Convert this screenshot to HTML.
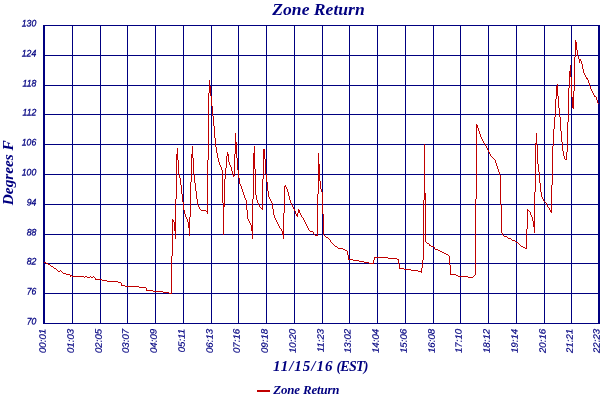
<!DOCTYPE html>
<html><head><meta charset="utf-8"><title>Zone Return</title>
<style>
html,body{margin:0;padding:0;background:#fff;}
body{width:600px;height:400px;overflow:hidden;font-family:"Liberation Sans",sans-serif;}
svg{display:block;will-change:transform;}
.yl{font-family:"Liberation Sans",sans-serif;font-style:italic;font-size:10px;fill:#000080;stroke:#000080;stroke-width:0.3px;text-anchor:end;}
.xl{font-family:"Liberation Sans",sans-serif;font-style:italic;font-size:9.7px;fill:#000080;stroke:#000080;stroke-width:0.2px;text-anchor:end;}
.t{font-family:"Liberation Serif",serif;font-style:italic;font-weight:bold;fill:#000080;text-anchor:middle;}
</style></head>
<body>
<svg width="600" height="400" viewBox="0 0 600 400">
<rect width="600" height="400" fill="#ffffff"/>
<g shape-rendering="crispEdges" fill="#000080">
<rect x="72" y="25" width="1" height="299"/>
<rect x="100" y="25" width="1" height="299"/>
<rect x="127" y="25" width="1" height="299"/>
<rect x="155" y="25" width="1" height="299"/>
<rect x="183" y="25" width="1" height="299"/>
<rect x="211" y="25" width="1" height="299"/>
<rect x="238" y="25" width="1" height="299"/>
<rect x="266" y="25" width="1" height="299"/>
<rect x="294" y="25" width="1" height="299"/>
<rect x="322" y="25" width="1" height="299"/>
<rect x="349" y="25" width="1" height="299"/>
<rect x="377" y="25" width="1" height="299"/>
<rect x="405" y="25" width="1" height="299"/>
<rect x="433" y="25" width="1" height="299"/>
<rect x="460" y="25" width="1" height="299"/>
<rect x="488" y="25" width="1" height="299"/>
<rect x="516" y="25" width="1" height="299"/>
<rect x="544" y="25" width="1" height="299"/>
<rect x="571" y="25" width="1" height="299"/>
<rect x="43" y="25" width="557" height="1"/>
<rect x="43" y="55" width="557" height="1"/>
<rect x="43" y="85" width="557" height="1"/>
<rect x="43" y="114" width="557" height="1"/>
<rect x="43" y="144" width="557" height="1"/>
<rect x="43" y="174" width="557" height="1"/>
<rect x="43" y="204" width="557" height="1"/>
<rect x="43" y="234" width="557" height="1"/>
<rect x="43" y="263" width="557" height="1"/>
<rect x="43" y="293" width="557" height="1"/>
<rect x="43" y="323" width="557" height="1"/>
<rect x="43" y="25" width="2" height="299"/>
<rect x="598" y="25" width="2" height="299"/>
</g>
<path shape-rendering="crispEdges" fill="#c00000" d="M44 262h1v1h-1zM45 262h1v1h-1zM46 263h1v1h-1zM47 263h1v1h-1zM48 264h1v1h-1zM49 264h1v1h-1zM50 265h1v1h-1zM51 266h1v1h-1zM52 266h1v1h-1zM53 267h1v1h-1zM54 268h1v1h-1zM55 268h1v1h-1zM56 269h1v1h-1zM57 270h1v1h-1zM58 271h1v1h-1zM59 271h1v1h-1zM60 270h1v1h-1zM61 271h1v1h-1zM62 272h1v1h-1zM63 273h1v1h-1zM64 273h1v1h-1zM65 273h1v1h-1zM66 274h1v1h-1zM67 274h1v1h-1zM68 274h1v1h-1zM69 274h1v1h-1zM70 275h1v2h-1zM71 275h1v1h-1zM72 276h1v1h-1zM73 276h1v1h-1zM74 276h1v1h-1zM75 276h1v1h-1zM76 276h1v1h-1zM77 276h1v1h-1zM78 276h1v1h-1zM79 276h1v1h-1zM80 276h1v1h-1zM81 276h1v1h-1zM82 276h1v1h-1zM83 276h1v1h-1zM84 277h1v1h-1zM85 276h1v1h-1zM86 276h1v1h-1zM87 277h1v1h-1zM88 277h1v1h-1zM89 277h1v1h-1zM90 276h1v1h-1zM91 277h1v1h-1zM92 277h1v1h-1zM93 276h1v1h-1zM94 277h1v1h-1zM95 278h1v2h-1zM96 279h1v1h-1zM97 279h1v1h-1zM98 279h1v1h-1zM99 279h1v1h-1zM100 279h1v1h-1zM101 279h1v1h-1zM102 280h1v1h-1zM103 280h1v1h-1zM104 280h1v1h-1zM105 280h1v1h-1zM106 280h1v1h-1zM107 281h1v1h-1zM108 281h1v1h-1zM109 281h1v1h-1zM110 281h1v1h-1zM111 281h1v1h-1zM112 281h1v1h-1zM113 281h1v1h-1zM114 281h1v1h-1zM115 281h1v1h-1zM116 281h1v1h-1zM117 281h1v1h-1zM118 282h1v1h-1zM119 282h1v1h-1zM120 282h1v1h-1zM121 283h1v3h-1zM122 285h1v1h-1zM123 285h1v1h-1zM124 285h1v1h-1zM125 286h1v1h-1zM126 286h1v1h-1zM127 286h1v1h-1zM128 286h1v1h-1zM129 286h1v1h-1zM130 286h1v1h-1zM131 286h1v1h-1zM132 286h1v1h-1zM133 286h1v1h-1zM134 286h1v1h-1zM135 286h1v1h-1zM136 286h1v1h-1zM137 286h1v1h-1zM138 286h1v1h-1zM139 287h1v1h-1zM140 287h1v1h-1zM141 287h1v1h-1zM142 287h1v1h-1zM143 287h1v1h-1zM144 287h1v1h-1zM145 287h1v1h-1zM146 288h1v3h-1zM147 290h1v1h-1zM148 290h1v1h-1zM149 290h1v1h-1zM150 290h1v1h-1zM151 290h1v1h-1zM152 290h1v1h-1zM153 291h1v1h-1zM154 291h1v1h-1zM155 291h1v1h-1zM156 291h1v1h-1zM157 291h1v1h-1zM158 291h1v1h-1zM159 291h1v1h-1zM160 291h1v1h-1zM161 291h1v1h-1zM162 291h1v1h-1zM163 292h1v1h-1zM164 292h1v1h-1zM165 292h1v1h-1zM166 292h1v1h-1zM167 292h1v1h-1zM168 292h1v1h-1zM169 293h1v1h-1zM170 293h1v1h-1zM171 256h1v38h-1zM172 219h1v37h-1zM173 220h1v2h-1zM174 222h1v9h-1zM175 199h1v40h-1zM176 154h1v45h-1zM177 148h1v12h-1zM178 160h1v14h-1zM179 174h1v4h-1zM180 178h1v7h-1zM181 185h1v9h-1zM182 194h1v8h-1zM183 202h1v8h-1zM184 210h1v4h-1zM185 214h1v3h-1zM186 217h1v2h-1zM187 219h1v3h-1zM188 222h1v6h-1zM189 217h1v19h-1zM190 182h1v35h-1zM191 154h1v28h-1zM192 146h1v12h-1zM193 158h1v16h-1zM194 174h1v9h-1zM195 183h1v8h-1zM196 191h1v8h-1zM197 199h1v6h-1zM198 205h1v2h-1zM199 207h1v2h-1zM200 209h1v1h-1zM201 210h1v1h-1zM202 210h1v1h-1zM203 210h1v1h-1zM204 210h1v1h-1zM205 210h1v1h-1zM206 211h1v1h-1zM207 160h1v54h-1zM208 93h1v67h-1zM209 80h1v13h-1zM210 86h1v10h-1zM211 96h1v10h-1zM212 106h1v10h-1zM213 116h1v10h-1zM214 126h1v12h-1zM215 138h1v9h-1zM216 147h1v6h-1zM217 153h1v5h-1zM218 158h1v4h-1zM219 162h1v3h-1zM220 165h1v2h-1zM221 167h1v3h-1zM222 170h1v33h-1zM223 203h1v32h-1zM224 179h1v28h-1zM225 168h1v11h-1zM226 156h1v12h-1zM227 152h1v4h-1zM228 154h1v8h-1zM229 162h1v3h-1zM230 165h1v2h-1zM231 167h1v4h-1zM232 171h1v4h-1zM233 175h1v2h-1zM234 154h1v22h-1zM235 133h1v21h-1zM236 142h1v16h-1zM237 158h1v12h-1zM238 170h1v8h-1zM239 178h1v6h-1zM240 184h1v2h-1zM241 186h1v3h-1zM242 189h1v3h-1zM243 192h1v3h-1zM244 195h1v3h-1zM245 198h1v2h-1zM246 200h1v10h-1zM247 210h1v9h-1zM248 219h1v2h-1zM249 221h1v2h-1zM250 223h1v2h-1zM251 225h1v6h-1zM252 199h1v40h-1zM253 153h1v46h-1zM254 146h1v23h-1zM255 169h1v26h-1zM256 195h1v5h-1zM257 200h1v3h-1zM258 203h1v2h-1zM259 205h1v2h-1zM260 207h1v1h-1zM261 208h1v1h-1zM262 179h1v31h-1zM263 149h1v30h-1zM264 149h1v10h-1zM265 159h1v15h-1zM266 174h1v8h-1zM267 182h1v9h-1zM268 191h1v6h-1zM269 197h1v2h-1zM270 199h1v2h-1zM271 201h1v2h-1zM272 203h1v6h-1zM273 209h1v6h-1zM274 215h1v3h-1zM275 218h1v2h-1zM276 220h1v2h-1zM277 222h1v2h-1zM278 224h1v2h-1zM279 226h1v2h-1zM280 228h1v1h-1zM281 229h1v2h-1zM282 231h1v4h-1zM283 213h1v26h-1zM284 186h1v27h-1zM285 185h1v2h-1zM286 187h1v2h-1zM287 189h1v3h-1zM288 192h1v4h-1zM289 196h1v4h-1zM290 200h1v3h-1zM291 203h1v2h-1zM292 205h1v2h-1zM293 207h1v2h-1zM294 209h1v2h-1zM295 211h1v3h-1zM296 214h1v2h-1zM297 213h1v4h-1zM298 209h1v4h-1zM299 210h1v3h-1zM300 213h1v2h-1zM301 215h1v2h-1zM302 217h1v1h-1zM303 218h1v2h-1zM304 220h1v2h-1zM305 222h1v2h-1zM306 224h1v2h-1zM307 226h1v2h-1zM308 228h1v2h-1zM309 230h1v1h-1zM310 231h1v1h-1zM311 231h1v1h-1zM312 231h1v1h-1zM313 232h1v2h-1zM314 234h1v1h-1zM315 235h1v1h-1zM316 235h1v1h-1zM317 194h1v42h-1zM318 153h1v41h-1zM319 164h1v17h-1zM320 181h1v8h-1zM321 189h1v3h-1zM322 192h1v22h-1zM323 214h1v21h-1zM324 235h1v1h-1zM325 236h1v1h-1zM326 237h1v1h-1zM327 237h1v1h-1zM328 238h1v1h-1zM329 239h1v1h-1zM330 240h1v2h-1zM331 242h1v1h-1zM332 243h1v1h-1zM333 244h1v1h-1zM334 245h1v1h-1zM335 246h1v1h-1zM336 246h1v1h-1zM337 247h1v1h-1zM338 248h1v1h-1zM339 248h1v1h-1zM340 248h1v1h-1zM341 248h1v1h-1zM342 248h1v1h-1zM343 249h1v1h-1zM344 249h1v1h-1zM345 250h1v1h-1zM346 250h1v1h-1zM347 251h1v4h-1zM348 255h1v5h-1zM349 259h1v1h-1zM350 259h1v1h-1zM351 259h1v1h-1zM352 259h1v1h-1zM353 260h1v1h-1zM354 260h1v1h-1zM355 260h1v1h-1zM356 260h1v1h-1zM357 260h1v1h-1zM358 260h1v1h-1zM359 261h1v1h-1zM360 261h1v1h-1zM361 261h1v1h-1zM362 261h1v1h-1zM363 261h1v1h-1zM364 262h1v1h-1zM365 262h1v1h-1zM366 262h1v1h-1zM367 262h1v1h-1zM368 262h1v1h-1zM369 263h1v1h-1zM370 263h1v1h-1zM371 263h1v1h-1zM372 263h1v1h-1zM373 260h1v4h-1zM374 257h1v3h-1zM375 257h1v1h-1zM376 257h1v1h-1zM377 257h1v1h-1zM378 257h1v1h-1zM379 257h1v1h-1zM380 257h1v1h-1zM381 257h1v1h-1zM382 257h1v1h-1zM383 257h1v1h-1zM384 257h1v1h-1zM385 257h1v1h-1zM386 257h1v1h-1zM387 257h1v1h-1zM388 258h1v1h-1zM389 258h1v1h-1zM390 258h1v1h-1zM391 258h1v1h-1zM392 258h1v1h-1zM393 258h1v1h-1zM394 258h1v1h-1zM395 258h1v1h-1zM396 258h1v1h-1zM397 259h1v1h-1zM398 259h1v5h-1zM399 264h1v5h-1zM400 268h1v1h-1zM401 268h1v1h-1zM402 268h1v1h-1zM403 268h1v1h-1zM404 269h1v1h-1zM405 269h1v1h-1zM406 269h1v1h-1zM407 269h1v1h-1zM408 269h1v1h-1zM409 269h1v1h-1zM410 269h1v1h-1zM411 270h1v1h-1zM412 270h1v1h-1zM413 270h1v1h-1zM414 270h1v1h-1zM415 270h1v1h-1zM416 270h1v1h-1zM417 270h1v1h-1zM418 271h1v1h-1zM419 271h1v1h-1zM420 271h1v1h-1zM421 268h1v5h-1zM422 260h1v8h-1zM423 200h1v60h-1zM424 144h1v56h-1zM425 193h1v49h-1zM426 242h1v1h-1zM427 243h1v1h-1zM428 243h1v1h-1zM429 244h1v2h-1zM430 245h1v1h-1zM431 246h1v1h-1zM432 246h1v1h-1zM433 246h1v1h-1zM434 247h1v2h-1zM435 249h1v1h-1zM436 249h1v1h-1zM437 249h1v1h-1zM438 250h1v1h-1zM439 250h1v1h-1zM440 251h1v1h-1zM441 251h1v1h-1zM442 252h1v1h-1zM443 252h1v1h-1zM444 253h1v1h-1zM445 253h1v1h-1zM446 254h1v1h-1zM447 254h1v1h-1zM448 255h1v1h-1zM449 256h1v9h-1zM450 265h1v10h-1zM451 274h1v1h-1zM452 274h1v1h-1zM453 274h1v1h-1zM454 274h1v1h-1zM455 274h1v1h-1zM456 275h1v1h-1zM457 275h1v1h-1zM458 276h1v1h-1zM459 276h1v1h-1zM460 276h1v1h-1zM461 276h1v1h-1zM462 276h1v1h-1zM463 276h1v1h-1zM464 276h1v1h-1zM465 276h1v1h-1zM466 276h1v1h-1zM467 276h1v1h-1zM468 277h1v1h-1zM469 277h1v1h-1zM470 277h1v1h-1zM471 277h1v1h-1zM472 277h1v1h-1zM473 276h1v1h-1zM474 275h1v1h-1zM475 199h1v76h-1zM476 124h1v75h-1zM477 125h1v3h-1zM478 128h1v3h-1zM479 131h1v3h-1zM480 134h1v3h-1zM481 137h1v2h-1zM482 139h1v2h-1zM483 141h1v2h-1zM484 143h1v1h-1zM485 144h1v2h-1zM486 146h1v2h-1zM487 148h1v2h-1zM488 150h1v2h-1zM489 152h1v2h-1zM490 154h1v2h-1zM491 156h1v1h-1zM492 157h1v1h-1zM493 158h1v1h-1zM494 159h1v1h-1zM495 160h1v3h-1zM496 163h1v3h-1zM497 166h1v3h-1zM498 169h1v3h-1zM499 172h1v3h-1zM500 175h1v30h-1zM501 205h1v28h-1zM502 233h1v2h-1zM503 235h1v1h-1zM504 236h1v1h-1zM505 236h1v1h-1zM506 236h1v1h-1zM507 237h1v1h-1zM508 238h1v1h-1zM509 238h1v1h-1zM510 238h1v1h-1zM511 239h1v1h-1zM512 240h1v1h-1zM513 240h1v1h-1zM514 240h1v1h-1zM515 241h1v1h-1zM516 242h1v1h-1zM517 242h1v1h-1zM518 243h1v1h-1zM519 244h1v1h-1zM520 245h1v1h-1zM521 246h1v1h-1zM522 246h1v1h-1zM523 247h1v1h-1zM524 247h1v1h-1zM525 248h1v1h-1zM526 229h1v20h-1zM527 209h1v20h-1zM528 210h1v1h-1zM529 211h1v1h-1zM530 212h1v3h-1zM531 215h1v2h-1zM532 217h1v4h-1zM533 221h1v6h-1zM534 192h1v41h-1zM535 143h1v49h-1zM536 133h1v12h-1zM537 145h1v19h-1zM538 164h1v8h-1zM539 172h1v11h-1zM540 183h1v9h-1zM541 192h1v5h-1zM542 197h1v2h-1zM543 199h1v2h-1zM544 201h1v1h-1zM545 202h1v1h-1zM546 203h1v2h-1zM547 205h1v2h-1zM548 207h1v1h-1zM549 208h1v2h-1zM550 210h1v2h-1zM551 185h1v28h-1zM552 146h1v39h-1zM553 129h1v17h-1zM554 117h1v12h-1zM555 99h1v18h-1zM556 86h1v13h-1zM557 84h1v12h-1zM558 96h1v12h-1zM559 108h1v9h-1zM560 117h1v14h-1zM561 131h1v11h-1zM562 142h1v9h-1zM563 151h1v5h-1zM564 156h1v3h-1zM565 159h1v1h-1zM566 152h1v8h-1zM567 122h1v30h-1zM568 88h1v34h-1zM569 71h1v17h-1zM570 65h1v12h-1zM571 77h1v20h-1zM572 97h1v11h-1zM573 91h1v18h-1zM574 57h1v34h-1zM575 40h1v17h-1zM576 42h1v8h-1zM577 50h1v6h-1zM578 56h1v3h-1zM579 59h1v4h-1zM580 59h1v2h-1zM581 61h1v3h-1zM582 64h1v5h-1zM583 69h1v4h-1zM584 73h1v2h-1zM585 75h1v2h-1zM586 77h1v2h-1zM587 78h1v2h-1zM588 80h1v3h-1zM589 83h1v3h-1zM590 86h1v3h-1zM591 89h1v2h-1zM592 91h1v2h-1zM593 93h1v2h-1zM594 95h1v2h-1zM595 96h1v1h-1zM596 97h1v3h-1zM597 100h1v3h-1zM598 103h1v1h-1z"/>
<text class="yl" transform="translate(36.3,26.5) rotate(-0.2) scale(0.87,0.95)">130</text>
<text class="yl" transform="translate(36.3,56.5) rotate(-0.2) scale(0.87,0.95)">124</text>
<text class="yl" transform="translate(36.3,86.5) rotate(-0.2) scale(0.87,0.95)">118</text>
<text class="yl" transform="translate(36.3,115.5) rotate(-0.2) scale(0.87,0.95)">112</text>
<text class="yl" transform="translate(36.3,145.5) rotate(-0.2) scale(0.87,0.95)">106</text>
<text class="yl" transform="translate(36.3,175.5) rotate(-0.2) scale(0.87,0.95)">100</text>
<text class="yl" transform="translate(36.3,205.5) rotate(-0.2) scale(0.87,0.95)">94</text>
<text class="yl" transform="translate(36.3,235.5) rotate(-0.2) scale(0.87,0.95)">88</text>
<text class="yl" transform="translate(36.3,264.5) rotate(-0.2) scale(0.87,0.95)">82</text>
<text class="yl" transform="translate(36.3,294.5) rotate(-0.2) scale(0.87,0.95)">76</text>
<text class="yl" transform="translate(36.3,324.5) rotate(-0.2) scale(0.87,0.95)">70</text>
<text class="xl" transform="translate(45.6,328.8) rotate(-90.2) scale(1,0.95)">00:01</text>
<text class="xl" transform="translate(73.6,328.8) rotate(-90.2) scale(1,0.95)">01:03</text>
<text class="xl" transform="translate(101.6,328.8) rotate(-90.2) scale(1,0.95)">02:05</text>
<text class="xl" transform="translate(128.6,328.8) rotate(-90.2) scale(1,0.95)">03:07</text>
<text class="xl" transform="translate(156.6,328.8) rotate(-90.2) scale(1,0.95)">04:09</text>
<text class="xl" transform="translate(184.6,328.8) rotate(-90.2) scale(1,0.95)">05:11</text>
<text class="xl" transform="translate(212.6,328.8) rotate(-90.2) scale(1,0.95)">06:13</text>
<text class="xl" transform="translate(239.6,328.8) rotate(-90.2) scale(1,0.95)">07:16</text>
<text class="xl" transform="translate(267.6,328.8) rotate(-90.2) scale(1,0.95)">09:18</text>
<text class="xl" transform="translate(295.6,328.8) rotate(-90.2) scale(1,0.95)">10:20</text>
<text class="xl" transform="translate(323.6,328.8) rotate(-90.2) scale(1,0.95)">11:23</text>
<text class="xl" transform="translate(350.6,328.8) rotate(-90.2) scale(1,0.95)">13:02</text>
<text class="xl" transform="translate(378.6,328.8) rotate(-90.2) scale(1,0.95)">14:04</text>
<text class="xl" transform="translate(406.6,328.8) rotate(-90.2) scale(1,0.95)">15:06</text>
<text class="xl" transform="translate(434.6,328.8) rotate(-90.2) scale(1,0.95)">16:08</text>
<text class="xl" transform="translate(461.6,328.8) rotate(-90.2) scale(1,0.95)">17:10</text>
<text class="xl" transform="translate(489.6,328.8) rotate(-90.2) scale(1,0.95)">18:12</text>
<text class="xl" transform="translate(517.6,328.8) rotate(-90.2) scale(1,0.95)">19:14</text>
<text class="xl" transform="translate(545.6,328.8) rotate(-90.2) scale(1,0.95)">20:16</text>
<text class="xl" transform="translate(572.6,328.8) rotate(-90.2) scale(1,0.95)">21:21</text>
<text class="xl" transform="translate(599.6,328.8) rotate(-90.2) scale(1,0.95)">22:23</text>
<text class="t" x="318.5" y="14.7" font-size="17.6">Zone Return</text>
<text class="t" x="273" y="370.6" font-size="15" style="text-anchor:start;letter-spacing:1.0px">11/15/16</text>
<text class="t" x="336.5" y="370.6" font-size="14" style="text-anchor:start;letter-spacing:-0.8px">(EST)</text>
<text class="t" transform="translate(13,172.7) rotate(-90)" font-size="15.3">Degrees F</text>
<rect x="257" y="390" width="13" height="2" fill="#c00000" shape-rendering="crispEdges"/>
<text class="t" x="306.3" y="393.8" font-size="12.9" style="letter-spacing:-0.15px">Zone Return</text>
</svg>
</body></html>
